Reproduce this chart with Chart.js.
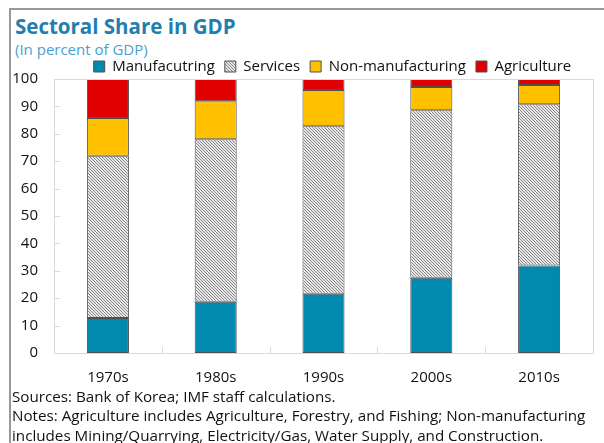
<!DOCTYPE html>
<html>
<head>
<meta charset="utf-8">
<script src="https://cdn.jsdelivr.net/npm/chart.js@4/dist/chart.umd.min.js"></script>
<style>
  body { margin: 0; background: #fff; font-family: "Open Sans", "Noto Sans", sans-serif; }
  #frame { position: absolute; left: 9px; top: 8px; width: 600px; height: 440px;
           border-left: 2px solid #999; border-top: 2px solid #999; }
  #title { position: absolute; left: 15px; top: 12px; font-size: 20.5px; font-weight: bold; color: #1f7fb0; }
  #subtitle { position: absolute; left: 15px; top: 39px; font-size: 15px; color: #4a9fd0; }
  #chartBox { position: absolute; left: 0; top: 49px; width: 604px; height: 354px; }
  .note { position: absolute; left: 12px; font-size: 15.2px; color: #111; white-space: nowrap; }
</style>
</head>
<body>
<div id="frame"></div>
<div id="title">Sectoral Share in GDP</div>
<div id="subtitle">(In percent of GDP)</div>
<div id="chartBox"><canvas id="bar-chart"></canvas></div>
<div class="note" style="top:386px">Sources: Bank of Korea; IMF staff calculations.</div>
<div class="note" style="top:405px">Notes: Agriculture includes Agriculture, Forestry, and Fishing; Non-manufacturing</div>
<div class="note" style="top:425px">includes Mining/Quarrying, Electricity/Gas, Water Supply, and Construction.</div>
<script>
var decades = ["1970s", "1980s", "1990s", "2000s", "2010s"];
var manufacturing = [12.8, 18.7, 21.6, 27.5, 31.9];
var services = [59.2, 59.3, 61.2, 61.1, 58.9];
var nonManufacturing = [13.8, 13.9, 13.2, 8.5, 7.0];
var agriculture = [14.2, 8.1, 4.0, 2.9, 2.2];
var yTicks = [0, 10, 20, 30, 40, 50, 60, 70, 80, 90, 100];

// fine diagonal hatch for the services bars
function hatchPattern() {
  var c = document.createElement("canvas");
  c.width = 3; c.height = 3;
  var g = c.getContext("2d");
  g.fillStyle = "#e8e8e8";
  g.fillRect(0, 0, 3, 3);
  g.fillStyle = "#858585";
  for (var i = 0; i < 3; i++) g.fillRect(i, i, 1, 1);
  return g.createPattern(c, "repeat");
}

// legend sits over the plot only, keeps a fixed height and is nudged right
var legendHeight = {
  id: "legendHeight",
  beforeLayout: function(chart) {
    var lg = chart.legend;
    if (lg && !lg._fixed) {
      var fit = lg.fit;
      lg.fit = function() { fit.call(this); this.height = 30; };
      lg._fixed = true;
    }
  },
  beforeDraw: function(chart) {
    var lg = chart.legend;
    if (lg && !lg._shifted) {
      lg.left += 9;
      lg.right += 9;
      lg._shifted = true;
    }
  }
};

// light box round the plot, plus short inward ticks on both axes
var plotFrame = {
  id: "plotFrame",
  afterDatasetsDraw: function(chart) {
    var ctx = chart.ctx, a = chart.chartArea;
    var x = chart.scales.x, y = chart.scales.y;
    ctx.save();
    ctx.strokeStyle = "#d9d9d9";
    ctx.lineWidth = 1;
    ctx.strokeRect(Math.round(a.left) + 0.5, Math.round(a.top) + 0.5,
                   Math.round(a.right - a.left), Math.round(a.bottom - a.top));
    ctx.beginPath();
    yTicks.forEach(function(v) {
      var py = Math.round(y.getPixelForValue(v)) + 0.5;
      ctx.moveTo(a.left, py);
      ctx.lineTo(a.left + 6, py);
    });
    for (var i = 1; i < decades.length; i++) {
      var px = Math.round((x.getPixelForValue(i - 1) + x.getPixelForValue(i)) / 2) + 0.5;
      ctx.moveTo(px, a.bottom);
      ctx.lineTo(px, a.bottom - 6);
    }
    ctx.stroke();
    ctx.restore();
  }
};

function series(label, data, color) {
  return {
    label: label,
    data: data,
    backgroundColor: color,
    borderColor: "#505050",
    borderWidth: 1,
    borderSkipped: false,
    barPercentage: 0.39,
    categoryPercentage: 1.0
  };
}

Chart.defaults.font.family = '"Open Sans", "Noto Sans", sans-serif';
Chart.defaults.color = "#111";

new Chart(document.getElementById("bar-chart"), {
  type: "bar",
  data: {
    labels: decades,
    datasets: [
      series("Manufacutring", manufacturing, "#008ab0"),
      series("Services", services, hatchPattern()),
      series("Non-manufacturing", nonManufacturing, "#ffc000"),
      series("Agriculture", agriculture, "#e00000")
    ]
  },
  options: {
    responsive: true,
    maintainAspectRatio: false,
    animation: false,
    layout: { padding: { left: 0, right: 11, top: 0, bottom: 0 } },
    plugins: {
      tooltip: { enabled: false },
      legend: {
        position: "top",
        fullSize: false,
        labels: {
          font: { size: 15 },
          boxWidth: 11,
          boxHeight: 11,
          padding: 10,
          color: "#111"
        }
      }
    },
    scales: {
      x: {
        stacked: true,
        grid: { display: false, drawTicks: false },
        border: { display: false },
        ticks: { font: { size: 15 }, padding: 16, color: "#111" }
      },
      y: {
        stacked: true,
        min: 0,
        max: 100,
        afterFit: function(scale) { scale.width = 54; },
        afterBuildTicks: function(scale) {
          scale.ticks = yTicks.map(function(v) { return { value: v }; });
        },
        grid: { display: false, drawTicks: false },
        border: { display: false },
        ticks: { font: { size: 15 }, padding: 16, color: "#111" }
      }
    }
  },
  plugins: [legendHeight, plotFrame]
});
</script>
</body>
</html>
